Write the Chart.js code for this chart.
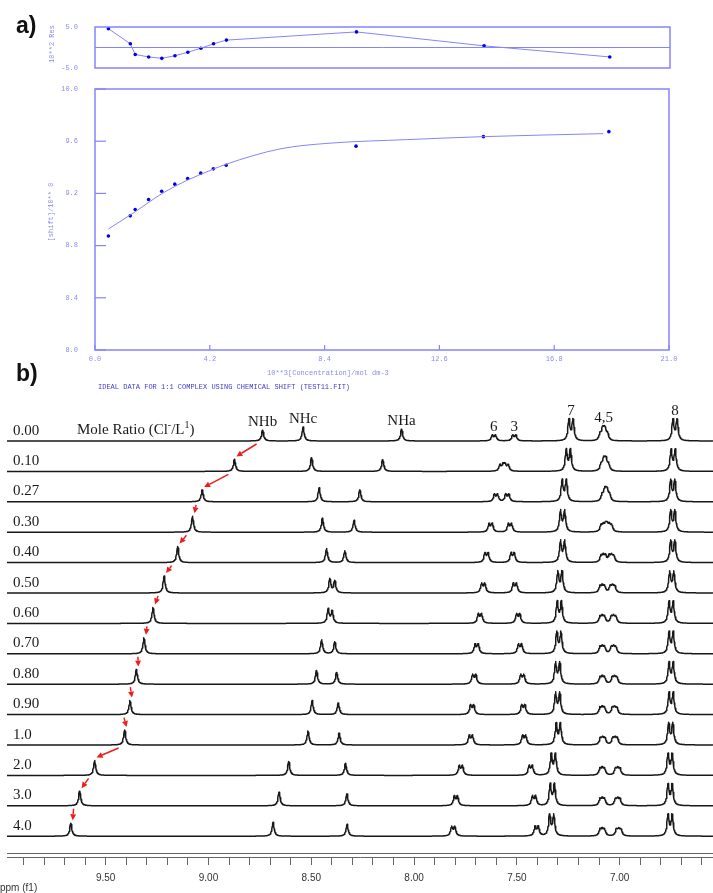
<!DOCTYPE html>
<html>
<head>
<meta charset="utf-8">
<script src="https://cdn.jsdelivr.net/npm/chart.js@4.4.1/dist/chart.umd.min.js"></script>
<style>
  html, body { margin: 0; padding: 0; background: #fff; }
  #wrap { position: relative; width: 713px; height: 893px; overflow: hidden; }
  .box { position: absolute; left: 0; width: 713px; }
</style>
</head>
<body>
<div id="wrap">
  <div class="box" style="top:0;height:75px"><canvas id="chartRes"></canvas></div>
  <div class="box" style="top:75px;height:320px"><canvas id="chartFit"></canvas></div>
  <div class="box" style="top:395px;height:498px"><canvas id="chartNmr"></canvas></div>
</div>
<script>
// ---- a) 1:1 binding fit ----
const conc = [0.49, 1.29, 1.47, 1.96, 2.44, 2.92, 3.39, 3.87, 4.33, 4.80, 9.55, 14.21, 18.80];
const shiftObs = [8.873, 9.028, 9.077, 9.153, 9.217, 9.271, 9.314, 9.355, 9.388, 9.416, 9.562, 9.635, 9.673];
const resid = [4.6, 0.9, -1.7, -2.3, -2.65, -2.0, -1.16, -0.17, 0.9, 1.8, 3.8, 0.4, -2.3];
const fitConc = [0.49, 1.48, 2.44, 3.39, 4.33, 4.80, 6.77, 8.6, 11.4, 14.21, 18.59];
const fitShift = [8.927, 9.061, 9.197, 9.302, 9.386, 9.424, 9.541, 9.585, 9.612, 9.635, 9.658];
const concTicks = [0, 4.2, 8.4, 12.6, 16.8, 21.0];
const shiftTicks = [8.0, 8.4, 8.8, 9.2, 9.6, 10.0];
const residTicks = [-5, 5];

// ---- b) 1H NMR titration ----
const ratios = ['0.00', '0.10', '0.27', '0.30', '0.40', '0.50', '0.60', '0.70', '0.80', '0.90', '1.0', '2.0', '3.0', '4.0'];
const nhb = [8.737, 8.874, 9.031, 9.078, 9.150, 9.216, 9.270, 9.314, 9.351, 9.382, 9.408, 9.554, 9.627, 9.670];
const nhbHeight = [11, 12, 12, 16, 16, 17, 16, 16, 15, 14, 15, 15, 15, 13];
const nhc = [8.540, 8.499, 8.462, 8.446, 8.426, 8.410, 8.418, 8.450, 8.475, 8.496, 8.516, 8.610, 8.657, 8.686];
const nha = [8.061, 8.153, 8.264, 8.292, 8.337, 8.386, 8.399, 8.386, 8.377, 8.369, 8.365, 8.334, 8.327, 8.326];
const h6 = [7.612, 7.575, 7.602, 7.628, 7.648, 7.664, 7.680, 7.696, 7.708, 7.718, 7.724, 7.773, 7.797, 7.810];
const h3 = [7.513, 7.550, 7.547, 7.534, 7.521, 7.510, 7.494, 7.485, 7.474, 7.469, 7.465, 7.433, 7.417, 7.404];
const h63Height = [5.5, 6, 7, 8, 9, 9, 9, 9, 9, 9, 9, 9, 9, 9];
const h7 = [7.237, 7.250, 7.270, 7.278, 7.278, 7.291, 7.294, 7.296, 7.302, 7.302, 7.299, 7.323, 7.328, 7.331];
const h45a = [7.085, 7.080, 7.075, 7.080, 7.080, 7.085, 7.085, 7.085, 7.085, 7.085, 7.083, 7.085, 7.085, 7.085];
const h45b = [7.070, 7.065, 7.060, 7.050, 7.040, 7.035, 7.030, 7.030, 7.025, 7.025, 7.023, 7.010, 7.010, 7.005];
const h8 = [6.731, 6.740, 6.742, 6.742, 6.742, 6.747, 6.750, 6.750, 6.750, 6.750, 6.752, 6.755, 6.755, 6.755];
const peakLabels = ['NHb', 'NHc', 'NHa', '6', '3', '7', '4,5', '8'];
const ppmLabels = [9.5, 9.0, 8.5, 8.0, 7.5, 7.0];

const LINE = '#8484ff';
const DOT = '#0000e0';
const TXT = '#8a8aee';
const MONO = { family: '"Liberation Mono", "DejaVu Sans Mono", monospace', size: 7 };
const MONO_CSS = '7px "Liberation Mono", "DejaVu Sans Mono", monospace';
const SERIF = '"Liberation Serif", "Times New Roman", serif';
const SANS = '"Liberation Sans", Arial, sans-serif';
// invisible tick marks keep the y labels away from the axis without padding the chart area
const HIDDEN_TICKS = { display: true, drawOnChartArea: false, drawTicks: true, tickLength: 17, color: 'rgba(0,0,0,0)' };

function seg(ctx, x1, y1, x2, y2) {
  ctx.beginPath(); ctx.moveTo(x1, y1); ctx.lineTo(x2, y2); ctx.stroke();
}

// residual panel
const resDecor = {
  id: 'resDecor',
  afterDraw(chart) {
    const { ctx, chartArea: a, scales: { y } } = chart;
    ctx.save();
    ctx.strokeStyle = LINE; ctx.lineWidth = 1.5;
    ctx.strokeRect(a.left, a.top, a.right - a.left, a.bottom - a.top);
    ctx.lineWidth = 1;
    seg(ctx, a.left, y.getPixelForValue(0), a.right, y.getPixelForValue(0));
    ctx.fillStyle = TXT; ctx.font = MONO_CSS;
    ctx.translate(52, 44); ctx.rotate(-Math.PI / 2);
    ctx.textAlign = 'center'; ctx.textBaseline = 'middle';
    ctx.fillText('10**2 Res', 0, 0);
    ctx.restore();
    ctx.save();
    ctx.fillStyle = '#111'; ctx.font = 'bold 23px ' + SANS;
    ctx.fillText('a)', 16, 33);
    ctx.restore();
  }
};

new Chart(document.getElementById('chartRes'), {
  type: 'line',
  data: {
    datasets: [{
      data: conc.map((c, i) => ({ x: c, y: resid[i] })),
      borderColor: LINE, borderWidth: 1, tension: 0,
      pointRadius: 1.8, pointBackgroundColor: DOT, pointBorderWidth: 0
    }]
  },
  options: {
    responsive: true, maintainAspectRatio: false, animation: false,
    layout: { padding: { top: 27, right: 43, bottom: 7, left: 0 } },
    plugins: { legend: { display: false }, tooltip: { enabled: false } },
    scales: {
      x: { type: 'linear', min: 0, max: 21, display: false },
      y: {
        min: -5, max: 5,
        afterFit: s => { s.width = 95; },
        afterBuildTicks: s => { s.ticks = residTicks.map(v => ({ value: v })); },
        grid: HIDDEN_TICKS, border: { display: false },
        ticks: { padding: 0, color: TXT, font: MONO, callback: v => v.toFixed(1) }
      }
    }
  },
  plugins: [resDecor]
});

// fit panel
const fitDecor = {
  id: 'fitDecor',
  afterDraw(chart) {
    const { ctx, chartArea: a, scales: { x, y } } = chart;
    ctx.save();
    ctx.strokeStyle = LINE; ctx.lineWidth = 1.5;
    ctx.strokeRect(a.left, a.top, a.right - a.left, a.bottom - a.top);
    ctx.lineWidth = 1.2;
    shiftTicks.forEach(v => { const py = y.getPixelForValue(v); seg(ctx, a.left, py, a.left + 11, py); });
    concTicks.forEach(v => { const px = x.getPixelForValue(v); seg(ctx, px, a.bottom, px, a.bottom - 5); });
    ctx.fillStyle = TXT; ctx.font = MONO_CSS; ctx.textBaseline = 'middle';
    ctx.fillText('10**3[Concentration]/mol dm-3', 267, 298);
    ctx.fillStyle = '#4040d0';
    ctx.fillText('IDEAL DATA FOR 1:1 COMPLEX USING CHEMICAL SHIFT (TEST11.FIT)', 98, 312);
    ctx.fillStyle = TXT;
    ctx.translate(51, 137); ctx.rotate(-Math.PI / 2);
    ctx.textAlign = 'center';
    ctx.fillText('[shift]/10** 0', 0, 0);
    ctx.restore();
    ctx.save();
    ctx.fillStyle = '#111'; ctx.font = 'bold 23px ' + SANS;
    ctx.fillText('b)', 16, 306);
    ctx.restore();
  }
};

new Chart(document.getElementById('chartFit'), {
  type: 'line',
  data: {
    datasets: [{
      type: 'line',
      data: fitConc.map((c, i) => ({ x: c, y: fitShift[i] })),
      borderColor: LINE, borderWidth: 1, pointRadius: 0, cubicInterpolationMode: 'monotone'
    }, {
      type: 'scatter',
      data: conc.map((c, i) => ({ x: c, y: shiftObs[i] })),
      pointRadius: 1.8, pointBackgroundColor: DOT, pointBorderWidth: 0, showLine: false
    }]
  },
  options: {
    responsive: true, maintainAspectRatio: false, animation: false,
    layout: { padding: { top: 14, right: 44, bottom: 33, left: 0 } },
    plugins: { legend: { display: false }, tooltip: { enabled: false } },
    scales: {
      x: {
        type: 'linear', min: 0, max: 21,
        afterFit: s => { s.height = 12; },
        afterBuildTicks: s => { s.ticks = concTicks.map(v => ({ value: v })); },
        grid: { display: true, drawOnChartArea: false, drawTicks: true, tickLength: 5, color: 'rgba(0,0,0,0)' },
        border: { display: false },
        ticks: { padding: 0, color: TXT, font: MONO, maxRotation: 0, autoSkip: false, callback: v => v.toFixed(1) }
      },
      y: {
        min: 8, max: 10,
        afterFit: s => { s.width = 95; },
        afterBuildTicks: s => { s.ticks = shiftTicks.map(v => ({ value: v })); },
        grid: HIDDEN_TICKS, border: { display: false },
        ticks: { padding: 0, color: TXT, font: MONO, callback: v => v.toFixed(1) }
      }
    }
  },
  plugins: [fitDecor]
});

// NMR stack
const ROW_STEP = 30.4;
const LW = 0.006; // lorentzian half width, ppm
const PPM_MIN = 6.546, PPM_MAX = 9.98;
const signals = [
  { pos: nhb, h: nhbHeight, lines: [0] },
  { pos: nhc, h: 14, lines: [0] },
  { pos: nha, h: 12, lines: [0] },
  { pos: h6, h: h63Height, lines: [-0.0075, 0.0075] },
  { pos: h3, h: h63Height, lines: [-0.0075, 0.0075] },
  { pos: h7, h: 21, lines: [-0.01, 0.01] },
  { pos: h45a, h: 6, lines: [-0.011, 0, 0.011] },
  { pos: h8, h: 21, lines: [-0.01, 0.01] },
  { pos: h45b, h: 6, lines: [-0.011, 0, 0.011] }
];

function spectrum(i) {
  const base = -i * ROW_STEP;
  const pts = [];
  for (let k = 0; ; k++) {
    const p = PPM_MAX - k * 0.002;
    if (p < PPM_MIN) break;
    let v = base;
    signals.forEach(s => {
      const c = s.pos[i];
      const h = Array.isArray(s.h) ? s.h[i] : s.h;
      s.lines.forEach(d => { const dx = p - (c + d); v += h * LW * LW / (dx * dx + LW * LW); });
    });
    pts.push({ x: p, y: v });
  }
  return pts;
}

function peakTop(chart, i, ppm) {
  const pts = chart.data.datasets[i].data;
  let m = -1e9;
  pts.forEach(p => { if (Math.abs(p.x - ppm) < 0.03 && p.y > m) m = p.y; });
  return chart.scales.y.getPixelForValue(m);
}

const nmrDecor = {
  id: 'nmrDecor',
  afterDraw(chart) {
    const { ctx, chartArea: a, scales: { x, y } } = chart;
    ctx.save();
    // second axis line
    ctx.strokeStyle = '#666'; ctx.lineWidth = 1;
    seg(ctx, a.left, a.bottom - 3.5, a.right, a.bottom - 3.5);
    // row labels
    ctx.fillStyle = '#1a1a1a';
    ctx.font = '15px ' + SERIF;
    ratios.forEach((r, i) => ctx.fillText(r, 13, y.getPixelForValue(-i * ROW_STEP) - 6.5));
    // peak labels on top trace
    ctx.textAlign = 'center';
    const labelPos = [nhb[0], nhc[0], nha[0], h6[0], h3[0], h7[0], (h45a[0] + h45b[0]) / 2, h8[0]];
    labelPos.forEach((p, k) => ctx.fillText(peakLabels[k], x.getPixelForValue(p), peakTop(chart, 0, p) - 4));
    // Mole Ratio (Cl-/L1)
    ctx.textAlign = 'left';
    const by = y.getPixelForValue(0) - 7;
    let cx = 77;
    const part = (t, size, dy) => { ctx.font = size + 'px ' + SERIF; ctx.fillText(t, cx, by + dy); cx += ctx.measureText(t).width; };
    part('Mole Ratio (Cl', 15, 0); part('-', 10, -6); part('/L', 15, 0); part('1', 10, -6); part(')', 15, 0);
    // arrows following NHb
    ctx.strokeStyle = '#ee1d1d'; ctx.fillStyle = '#ee1d1d'; ctx.lineWidth = 1.5;
    for (let i = 0; i < ratios.length - 1; i++) {
      const x1 = x.getPixelForValue(nhb[i]) - 6, y1 = y.getPixelForValue(-i * ROW_STEP) + 3;
      const x2 = x.getPixelForValue(nhb[i + 1]) + 2, y2 = peakTop(chart, i + 1, nhb[i + 1]) - 3;
      const ang = Math.atan2(y2 - y1, x2 - x1);
      const hx = x2 - 6 * Math.cos(ang), hy = y2 - 6 * Math.sin(ang);
      seg(ctx, x1, y1, hx, hy);
      ctx.beginPath();
      ctx.moveTo(x2, y2);
      ctx.lineTo(hx + 3 * Math.sin(ang), hy - 3 * Math.cos(ang));
      ctx.lineTo(hx - 3 * Math.sin(ang), hy + 3 * Math.cos(ang));
      ctx.closePath(); ctx.fill();
    }
    // axis unit
    ctx.fillStyle = '#333'; ctx.font = '10px ' + SANS;
    ctx.fillText('ppm (f1)', 0, 496);
    ctx.restore();
  }
};

new Chart(document.getElementById('chartNmr'), {
  type: 'line',
  data: {
    datasets: ratios.map((r, i) => ({
      label: r, data: spectrum(i),
      borderColor: '#181818', borderWidth: 1.5, pointRadius: 0, tension: 0,
      borderJoinStyle: 'round'
    }))
  },
  options: {
    responsive: true, maintainAspectRatio: false, animation: false,
    parsing: false, normalized: true,
    layout: { padding: { top: 0, right: 0, bottom: 0, left: 7 } },
    plugins: { legend: { display: false }, tooltip: { enabled: false } },
    scales: {
      x: {
        type: 'linear', reverse: true, min: PPM_MIN, max: PPM_MAX,
        afterFit: s => { s.height = 36; },
        grid: { drawOnChartArea: false, drawTicks: true, tickLength: 8, color: '#666' },
        border: { display: true, color: '#666', width: 1 },
        ticks: {
          stepSize: 0.1, includeBounds: false, autoSkip: false, maxRotation: 0, padding: 7,
          color: '#333', font: { family: SANS, size: 10 },
          callback: v => ppmLabels.some(l => Math.abs(l - v) < 1e-6) ? v.toFixed(2) : ''
        }
      },
      y: { type: 'linear', min: -416, max: 46, display: false }
    }
  },
  plugins: [nmrDecor]
});
</script>
</body>
</html>
